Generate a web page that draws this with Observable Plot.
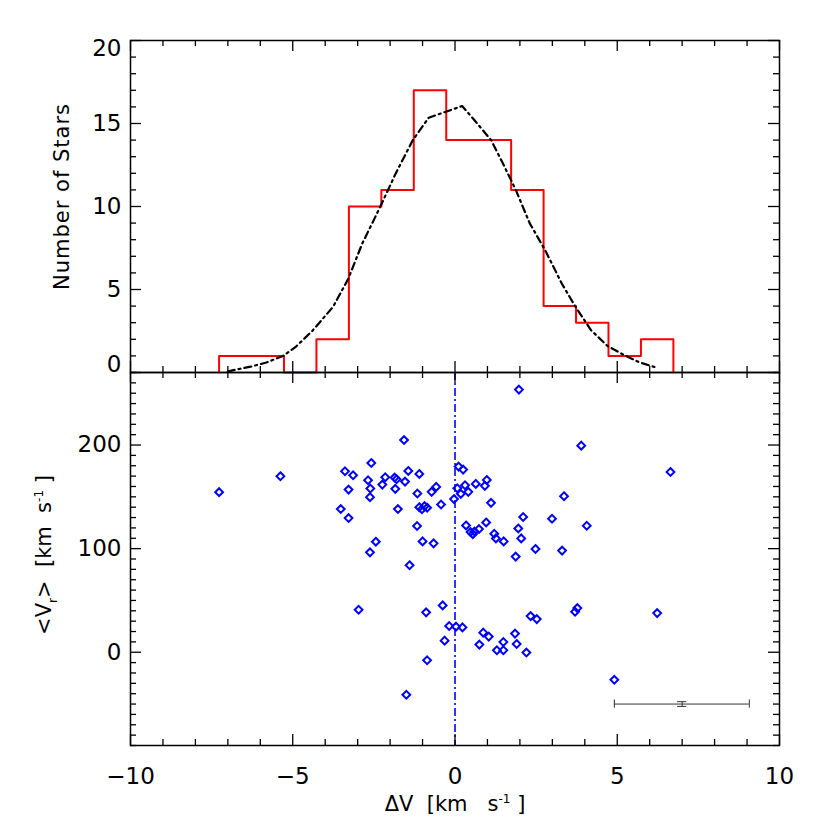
<!DOCTYPE html>
<html><head><meta charset="utf-8">
<script src="https://cdn.jsdelivr.net/npm/d3@7"></script>
<script src="https://cdn.jsdelivr.net/npm/@observablehq/plot@0.6"></script>
<style>
body{margin:0;background:#fff}
#c{position:relative;width:830px;height:830px}
#c svg{position:absolute;left:0;overflow:visible}
</style>
</head><body><div id="c"></div>
<script>
// ---------- data ----------
const binEdges = [-7.27,-6.27,-5.27,-4.27,-3.27,-2.27,-1.27,-0.27,0.73,1.73,2.73,3.73,4.73,5.73,6.73];
const binCounts = [1,1,0,2,10,11,17,14,14,11,4,3,1,2];

const curveX = [-7.0,-6.83,-6.3,-5.81,-5.3,-4.91,-4.4,-3.76,-3.3,-2.86,-2.3,-1.83,-1.3,-0.81,0.22,0.6,1.12,1.5,1.88,2.3,2.78,3.29,3.7,4.19,4.7,5.22,5.7,6.24];
const curveY = [0.05,0.14,0.35,0.6,1.0,1.54,2.5,3.95,5.6,7.76,10.0,11.98,14.0,15.35,16.05,15.2,13.98,12.5,10.97,9.0,7.36,5.36,4.0,2.55,1.6,1.04,0.6,0.28];

const deltaV = [-7.27,-5.38,-1.57,-2.58,-3.39,-3.14,-1.44,-1.10,-2.68,-2.15,-1.86,-1.80,-1.54,-2.24,-3.28,-2.61,-1.84,-1.16,-0.72,-0.58,-2.62,-3.52,-1.76,-3.28,-1.10,-1.02,-0.94,-0.86,-0.43,-1.17,-1.0,-0.66,-2.44,-2.62,-1.40,-2.97,-0.89,-0.38,-0.18,-0.32,-0.86,-1.50,
  1.97,3.89,6.64,0.11,0.25,0.98,0.92,0.64,0.31,0.07,0.18,0.41,-0.03,3.36,1.11,2.10,2.99,4.06,0.34,0.96,0.74,0.48,0.55,0.60,1.21,1.26,1.50,1.95,2.04,2.48,3.30,1.87,0.03,0.23,0.87,1.04,0.75,1.29,1.49,1.49,1.85,1.90,2.20,2.33,2.52,3.70,3.77,6.23,4.91];
const meanVr = [154.5,169.9,204.8,182.7,174.7,170.8,175,172.1,166,168.9,168.6,167,164.7,161.8,157,158,157.7,153.2,154.8,159.6,149.7,138.2,138.2,129.5,140,138,141,139.5,142.6,121.8,107,105.1,106.7,96.4,84,41,38.5,45.2,25.3,11.2,-7.7,-41,
  253.5,199.4,174,179.2,176.3,166.3,160.6,162.5,161.2,158.3,152.9,154.8,147.8,150.6,144.2,130.5,128.8,122.1,122.4,125.3,118.9,116,114,116.5,114.4,109.9,107,119.5,109.9,99.7,98.1,92.3,24.7,24,18.9,15.1,7.4,1.9,9.9,1.9,18,8,-0.3,34.9,32,39.1,42.6,37.8,-26.6];

// typical error bar
const errX = [7.0], errY = [-50], errXlo = [4.91], errXhi = [9.07], errYlo = [-52.3], errYhi = [-47.7];

// axes
const xDomain = [-10, 10];
const xMajor = [-10,-5,0,5,10];
const xLabels = ["\u221210","\u22125","0","5","10"];
const yTopDomain = [0, 20];
const yTopMajor = [0,5,10,15,20];
const yTopLabels = ["0","5","10","15","20"];
const yBotDomain = [-90, 270];
const yBotMajor = [0,100,200];
const yBotLabels = ["0","100","200"];

// ---------- layout ----------
const W = 830, mL = 130, mR = 51;
const frameW = W - mL - mR;               // 649
const topH = 372, topMT = 40, topFrameH = topH - topMT;  // 332
const botH = 458, botFrameH = 373, botMB = botH - botFrameH;
const FONT = "DejaVu Sans";
const MAJ = 11, MIN = 6;
const NB = "\u00A0";

const xMinor = d3.range(-10, 11, 1).filter(v => v % 5 !== 0);
const yTopMinor = d3.range(0, 21, 1).filter(v => v % 5 !== 0);
const yBotMinor = d3.range(-90, 271, 10).filter(v => v % 100 !== 0);

const xU = (xDomain[1]-xDomain[0]) / frameW;

function frameTicks(yDom, frameH, yMaj, yMin) {
  const yU = (yDom[1]-yDom[0]) / frameH;
  const st = {stroke:"black", strokeWidth:1.3};
  const mk = [];
  for (const [vals, len] of [[xMajor, MAJ], [xMinor, MIN]]) {
    mk.push(Plot.ruleX(vals, {x:d=>d, y1:yDom[0], y2:yDom[0]+len*yU, ...st}));
    mk.push(Plot.ruleX(vals, {x:d=>d, y1:yDom[1], y2:yDom[1]-len*yU, ...st}));
  }
  for (const [vals, len] of [[yMaj, MAJ], [yMin, MIN]]) {
    mk.push(Plot.ruleY(vals, {y:d=>d, x1:xDomain[0], x2:xDomain[0]+len*xU, ...st}));
    mk.push(Plot.ruleY(vals, {y:d=>d, x1:xDomain[1], x2:xDomain[1]-len*xU, ...st}));
  }
  return mk;
}

// histogram step points
const histPts = [{x: binEdges[0], y: 0}];
binCounts.forEach((c, i) => histPts.push({x: binEdges[i], y: c}));
histPts.push({x: binEdges[binEdges.length-1], y: 0});

const curvePts = curveX.map((x, i) => ({x, y: curveY[i]}));
const stars = deltaV.map((x, i) => ({x, y: meanVr[i]}));

const topPlot = Plot.plot({
  width: W, height: topH,
  marginTop: topMT, marginBottom: 0, marginLeft: mL, marginRight: mR,
  style: {fontFamily: FONT, background: "transparent", overflow: "visible"},
  x: {domain: xDomain, axis: null},
  y: {domain: yTopDomain, axis: null},
  marks: [
    Plot.line(histPts, {x:"x", y:"y", curve:"step-after", stroke:"#ff0000", strokeWidth:2}),
    Plot.line(curvePts, {x:"x", y:"y", stroke:"black", strokeWidth:2.2, strokeDasharray:"7,4,2,4"}),
    ...frameTicks(yTopDomain, topFrameH, yTopMajor, yTopMinor),
    Plot.frame({stroke:"black", strokeWidth:1.5}),
    Plot.text(yTopMajor.slice(1, 4), {x: xDomain[0], y: d=>d, text: (d,i)=>yTopLabels[i+1], textAnchor:"end", dx:-9, fontSize:23, fill:"black"}),
    Plot.text([yTopMajor[0]], {x: xDomain[0], y: d=>d, text: ()=>yTopLabels[0], textAnchor:"end", dx:-9, dy:-8, fontSize:23, fill:"black"}),
    Plot.text([yTopMajor[4]], {x: xDomain[0], y: d=>d, text: ()=>yTopLabels[4], textAnchor:"end", dx:-9, dy:8, fontSize:23, fill:"black"}),
    Plot.text(["Number" + NB + "of" + NB + "Stars"], {frameAnchor:"left", textAnchor:"middle", lineAnchor:"middle", dx:-68, dy:-10, rotate:-90, fontSize:21, fill:"black"})
  ]
});

const botPlot = Plot.plot({
  width: W, height: botH,
  marginTop: 0, marginBottom: botMB, marginLeft: mL, marginRight: mR,
  style: {fontFamily: FONT, background: "transparent", overflow: "visible"},
  x: {domain: xDomain, axis: null},
  y: {domain: yBotDomain, axis: null},
  marks: [
    Plot.ruleX([0], {stroke:"#0000ff", strokeWidth:1.6, strokeDasharray:"8,3,2,3"}),
    Plot.dot(stars, {x:"x", y:"y", symbol:"diamond2", r:3.5, stroke:"#0000ff", strokeWidth:2, fill:"none"}),
    Plot.ruleY(errY, {y:d=>d, x1:(d,i)=>errXlo[i], x2:(d,i)=>errXhi[i], stroke:"#333", strokeWidth:1}),
    Plot.ruleX(errXlo, {x:d=>d, y1:-54, y2:-46, stroke:"#333", strokeWidth:1}),
    Plot.ruleX(errXhi, {x:d=>d, y1:-54, y2:-46, stroke:"#333", strokeWidth:1}),
    Plot.ruleX(errX, {x:d=>d, y1:(d,i)=>errYlo[i], y2:(d,i)=>errYhi[i], stroke:"#333", strokeWidth:1}),
    Plot.ruleY(errYlo, {y:d=>d, x1:errX[0]-0.14, x2:errX[0]+0.14, stroke:"#333", strokeWidth:1}),
    Plot.ruleY(errYhi, {y:d=>d, x1:errX[0]-0.14, x2:errX[0]+0.14, stroke:"#333", strokeWidth:1}),
    ...frameTicks(yBotDomain, botFrameH, yBotMajor, yBotMinor),
    Plot.frame({stroke:"black", strokeWidth:1.5}),
    Plot.text(yBotMajor, {x: xDomain[0], y: d=>d, text: (d,i)=>yBotLabels[i], textAnchor:"end", dx:-9, fontSize:23, fill:"black"}),
    Plot.text(xMajor, {x: d=>d, y: yBotDomain[0], text: (d,i)=>xLabels[i], dy:31, fontSize:23, fill:"black"}),
    Plot.text(["XLABEL"], {frameAnchor:"bottom", textAnchor:"middle", lineAnchor:"middle", dy:59, fontSize:21, fill:"black"}),
    Plot.text(["YLABEL"], {frameAnchor:"left", textAnchor:"middle", lineAnchor:"middle", dx:-86, dy:-4, rotate:-90, fontSize:21, fill:"black"})
  ]
});

topPlot.style.top = "0px";
botPlot.style.top = topH + "px";
const c = document.getElementById("c");
c.appendChild(topPlot);
c.appendChild(botPlot);

d3.select(topPlot).selectAll("text").filter(function(){ return this.textContent.startsWith("Number"); })
  .attr("letter-spacing", 1);

function rich(svg, key, build) {
  d3.select(svg).selectAll("text").filter(function(){ return this.textContent === key; })
    .each(function(){ const t = d3.select(this); t.text(""); build(t); });
}
rich(botPlot, "XLABEL", t => {
  t.append("tspan").text("\u0394V" + NB + NB + "[km" + NB + NB + NB + "s");
  t.append("tspan").attr("dy", -8).attr("font-size", 12).text("-1");
  t.append("tspan").attr("dy", 8).text(NB + "]");
});
rich(botPlot, "YLABEL", t => {
  t.append("tspan").text("<V");
  t.append("tspan").attr("dy", 6).attr("font-size", 12).text("r");
  t.append("tspan").attr("dy", -6).text(">" + NB + NB + "[km" + NB + NB + "s");
  t.append("tspan").attr("dy", -8).attr("font-size", 12).text("-1");
  t.append("tspan").attr("dy", 8).text(NB + "]");
});
</script></body></html>
